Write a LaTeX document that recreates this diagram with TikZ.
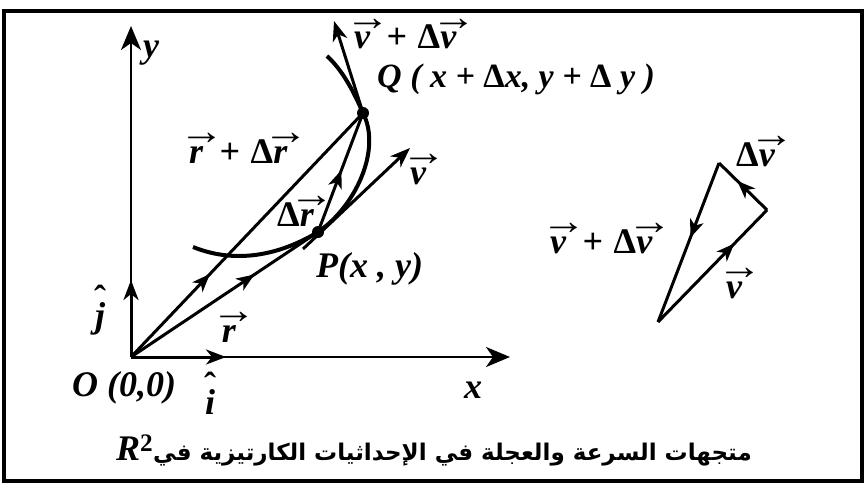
\documentclass[tikz,border=0pt]{standalone}
\usepackage{fontspec}
\setmainfont{Liberation Serif}
\newfontfamily\arabicfont[Script=Arabic]{DejaVu Sans}
\TeXXeTstate=1
\usetikzlibrary{arrows.meta,decorations.markings}
\newcommand\vect[1]{\ooalign{#1\cr\hidewidth\kern0.3em\raisebox{0.52em}{\upshape\bfseries\scalebox{1.25}[1.1]{→}}\hidewidth\cr}}
\newcommand\hatl[1]{\ooalign{#1\cr\hidewidth\raisebox{0.45em}{\upshape ˆ}\hidewidth\cr}}
\newcommand\Dl{{\upshape Δ}}
\newcommand\pl{\hspace{0.45em}+\hspace{0.3em}}
\begin{document}
\begin{tikzpicture}[x=1pt,y=-1pt,
  lbl/.style={font=\fontsize{36}{40}\selectfont\bfseries\itshape, inner sep=0pt, anchor=base west},
  axis/.style={line width=2.6pt,-{Stealth[length=24pt,width=20pt,inset=7pt]}},
  vecarrow/.style={line width=3pt,-{Stealth[length=20pt,width=15pt,inset=6pt]}},
  midarrow/.style={line width=3pt, postaction={decorate}, decoration={markings,
     mark=at position #1 with {\arrow{Stealth[length=18pt,width=14pt,inset=5pt]}}}},
  curve/.style={line width=4pt},
  dot/.style={circle, fill=black, inner sep=0pt, minimum size=12pt}]
\useasboundingbox (0,0) rectangle (866,484);
\draw[line width=4pt] (4,11) rectangle (862,481);
% points
\coordinate (O) at (131,357);
\coordinate (Xt) at (510,357);
\coordinate (Yt) at (131,26);
\coordinate (It) at (226,357);
\coordinate (Jt) at (131,280);
\coordinate (P) at (318,232);
\coordinate (Q) at (363,113);
\coordinate (Vs) at (303,249);
\coordinate (Vt) at (410,148);
\coordinate (Wt) at (334,21);
% axes and unit vectors
\draw[axis] (O) -- (Xt);
\draw[axis] (O) -- (Yt);
\draw[vecarrow] (O) -- (It);
\draw[vecarrow] (O) -- (Jt);
% curve
\draw[curve] (193,247) .. controls (240,266) and (285,252) .. (P)
   .. controls (355,207) and (382,150) .. (Q)
   .. controls (352,88) and (342,70) .. (327,56);
% position vectors
\draw[midarrow=0.66] (O) -- (P);
\draw[midarrow=0.34] (O) -- (Q);
\draw[midarrow=0.52] (P) -- (Q);
% velocity tangents
\draw[vecarrow] (Vs) -- (Vt);
\draw[vecarrow] (Q) -- (Wt);
\node[dot] (Pd) at (P) {};
\node[dot] (Qd) at (Q) {};
% triangle
\coordinate (A) at (658,322);
\coordinate (B) at (767,210);
\coordinate (C) at (719,163);
\draw[midarrow=0.7] (A) -- (B);
\draw[midarrow=0.62] (B) -- (C);
\draw[midarrow=0.47] (C) -- (A);
% labels (base west anchors)
\node[lbl] (ly) at (143,58) {y};
\node[lbl,anchor=base] (lj) at (100,327) {\hatl{j}};
\node[lbl,anchor=base] (lr) at (229,342) {\vect{r}};
\node[lbl] (lO) at (72,396) {O (0,0)};
\node[lbl,anchor=base] (li) at (210,414) {\hatl{i}};
\node[lbl,anchor=base] (lx) at (473,398) {x};
\node[lbl] (lP) at (316,277) {P(x , y)};
\node[lbl] (lDr) at (277,226) {\Dl\vect{r}};
\node[lbl] (lrDr) at (189,163) {\vect{r}\pl\Dl\vect{r}};
\node[lbl] (lv) at (410,184) {\vect{v}};
\node[lbl] (lvDv) at (354,49) {\vect{v}\pl\Dl\vect{v}};
\node[lbl,font=\fontsize{34}{40}\selectfont\bfseries\itshape] (lQ) at (377,88) {Q ( x + \Dl x, y + \Dl\ y )};
\node[lbl] (lDv) at (736,166) {\Dl\vect{v}};
\node[lbl] (lvDv2) at (550,253) {\vect{v}\pl\Dl\vect{v}};
\node[lbl] (lv2) at (726,298) {\vect{v}};
% caption
\node[inner sep=0pt, anchor=center] (cap) at (434,450)
  {{\fontsize{36}{40}\selectfont\bfseries\itshape R$^{\mathbf 2}$}{\arabicfont\bfseries\fontsize{23}{28}\selectfont\beginR متجهات السرعة والعجلة في الإحداثيات الكارتيزية في\endR}};
\end{tikzpicture}
\end{document}
